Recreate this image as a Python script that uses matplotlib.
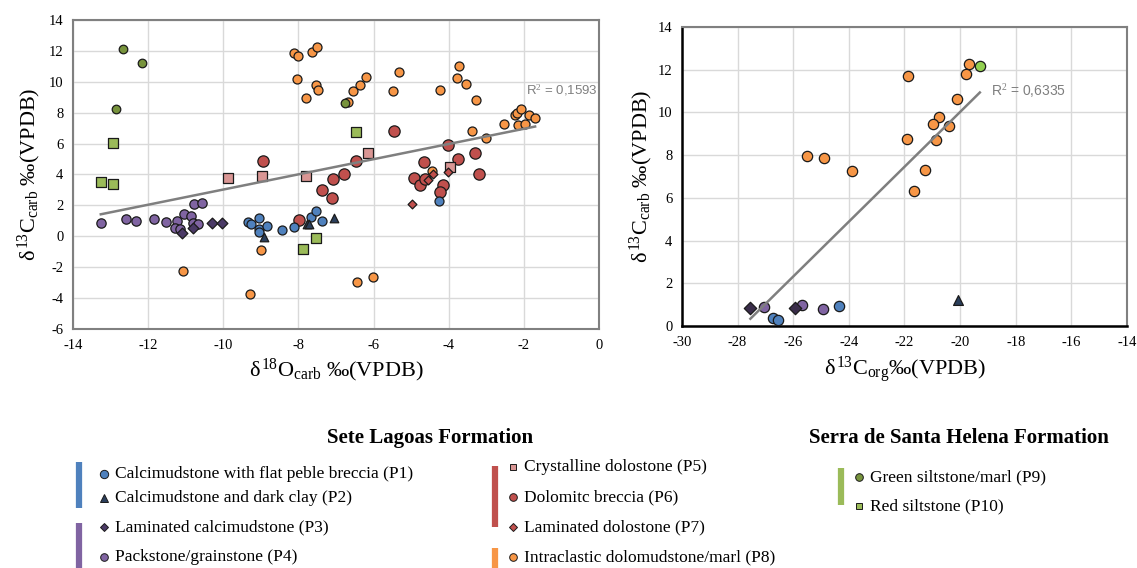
import numpy as np
import matplotlib
matplotlib.use('Agg')
import matplotlib.pyplot as plt
from matplotlib.lines import Line2D

plt.rcParams['font.family'] = ['Liberation Serif', 'DejaVu Serif']
plt.rcParams['mathtext.fontset'] = 'custom'
plt.rcParams['mathtext.rm'] = 'Liberation Serif'
plt.rcParams['mathtext.it'] = 'Liberation Serif'
plt.rcParams['axes.unicode_minus'] = False

# --- Sete Lagoas / Serra de Santa Helena: d18O (x) vs d13C (y) ---
p1_o = [-9.35, -9.27, -9.05, -9.04, -9.04, -8.84, -8.43, -8.11, -7.66, -7.54, -7.38, -4.25]
p1_c = [0.91, 0.80, 1.18, 0.47, 0.26, 0.67, 0.41, 0.58, 1.27, 1.64, 0.97, 2.28]
p2_o = [-8.92, -7.77, -7.72, -7.05]
p2_c = [-0.03, 0.80, 0.80, 1.18]
p3_o = [-11.11, -10.80, -10.31, -10.03]
p3_c = [0.19, 0.56, 0.86, 0.86]
p4_o = [-13.25, -12.60, -12.31, -11.84, -11.53, -11.24, -11.28, -11.15, -11.05, -10.85,
        -10.80, -10.68, -10.79, -10.57]
p4_c = [0.84, 1.12, 1.01, 1.12, 0.91, 0.99, 0.52, 0.47, 1.42, 1.33, 0.88, 0.80, 2.07, 2.17]
p5_o = [-9.88, -8.96, -7.80, -6.14, -3.97]
p5_c = [3.77, 3.90, 3.90, 5.37, 4.50]
p6_o = [-8.95, -7.98, -7.36, -7.11, -7.07, -6.79, -6.46, -5.46, -4.03, -4.65, -3.76, -3.30,
        -3.19, -4.92, -4.76, -4.63, -4.14, -4.23]
p6_c = [4.87, 1.06, 3.02, 2.50, 3.69, 4.05, 4.87, 6.82, 5.91, 4.81, 5.02, 5.37, 4.03, 3.79,
        3.30, 3.69, 3.30, 2.89]
p7_o = [-4.98, -4.56, -4.41, -4.01]
p7_c = [2.11, 3.66, 4.01, 4.18]
p8_o = [-8.11, -8.00, -7.64, -7.50, -8.03, -7.53, -7.49, -7.80, -6.67, -6.56, -6.37, -6.19,
        -5.32, -5.49, -3.73, -3.79, -3.55, -4.23, -3.26, -3.39, -3.01, -2.54, -2.24, -2.19,
        -2.07, -1.86, -1.70, -2.16, -1.97, -4.45, -9.00, -11.07, -9.29, -6.45, -6.02]
p8_c = [11.84, 11.69, 11.95, 12.27, 10.19, 9.80, 9.48, 8.98, 8.70, 9.39, 9.78, 10.32,
        10.63, 9.38, 11.02, 10.22, 9.88, 9.47, 8.80, 6.82, 6.34, 7.29, 7.85, 8.00,
        8.24, 7.87, 7.68, 7.18, 7.25, 4.25, -0.91, -2.27, -3.74, -2.98, -2.65]
p9_o = [-12.67, -12.17, -12.85, -6.75]
p9_c = [12.12, 11.19, 8.25, 8.64]
p10_o = [-12.93, -13.26, -12.93, -6.46, -7.54, -7.89]
p10_c = [6.06, 3.51, 3.38, 6.76, -0.13, -0.82]

# --- d13Corg (x) vs d13Ccarb (y) ---
r1_org = [-26.74, -26.53, -24.35]
r1_c = [0.36, 0.28, 0.93]
r2_org = [-20.08]
r2_c = [1.20]
r3_org = [-27.54, -25.95]
r3_c = [0.82, 0.82]
r4_org = [-27.05, -25.69, -24.93]
r4_c = [0.90, 0.98, 0.81]
r8_org = [-19.68, -19.80, -21.86, -20.10, -20.76, -20.99, -20.41, -21.92, -20.86, -25.51,
          -24.91, -23.87, -21.26, -21.64]
r8_c = [12.26, 11.82, 11.70, 10.61, 9.80, 9.44, 9.36, 8.77, 8.70, 7.98, 7.86, 7.25, 7.28, 6.32]
r9_org = [-19.29]
r9_c = [12.16]

r2_left = 'R$^2$ = 0,1593'
r2_right = 'R$^2$ = 0,6335'

c_blue = '#4F81BD'
c_navy = '#2B3F5C'
c_dpurp = '#4B3A66'
c_purp = '#8064A2'
c_pink = '#D99694'
c_red = '#C0504D'
c_orange = '#F79646'
c_olive = '#77933C'
c_lgreen = '#9BBB59'

fig = plt.figure(figsize=(11.37, 5.68), dpi=100)
ax1 = fig.add_axes([0.0642, 0.4208, 0.4626, 0.5440])
ax2 = fig.add_axes([0.5998, 0.4261, 0.3914, 0.5264])

ek = dict(edgecolors='#1a1a1a', linewidths=0.9, zorder=3)

# left panel
ax1.scatter(p8_o, p8_c, s=42, marker='o', color=c_orange, **ek)
ax1.scatter(p6_o, p6_c, s=66, marker='o', color=c_red, **ek)
ax1.scatter(p5_o, p5_c, s=50, marker='s', color=c_pink, **ek)
ax1.scatter(p7_o, p7_c, s=20, marker='D', color=c_red, **ek)
ax1.scatter(p4_o, p4_c, s=45, marker='o', color=c_purp, **ek)
ax1.scatter(p3_o, p3_c, s=30, marker='D', color=c_dpurp, **ek)
ax1.scatter(p1_o, p1_c, s=42, marker='o', color=c_blue, **ek)
ax1.scatter(p2_o, p2_c, s=38, marker='^', color=c_navy, **ek)
ax1.scatter(p9_o, p9_c, s=38, marker='o', color=c_olive, **ek)
ax1.scatter(p10_o, p10_c, s=45, marker='s', color=c_lgreen, **ek)

all_o = np.array(p1_o + p2_o + p3_o + p4_o + p5_o + p6_o + p7_o + p8_o + p9_o + p10_o)
all_c = np.array(p1_c + p2_c + p3_c + p4_c + p5_c + p6_c + p7_c + p8_c + p9_c + p10_c)
k, b = np.polyfit(all_o, all_c, 1)
xs = np.array([all_o.min(), all_o.max()])
ax1.plot(xs, k * xs + b, color='#7F7F7F', lw=1.8, zorder=4)
ax1.text(-1.95, 9.45, r2_left, fontsize=9.5, color='#7F7F7F', family='Liberation Sans',
         ha='left', va='center')

ax1.set_xlim(-14, 0)
ax1.set_ylim(-6, 14)
ax1.set_xticks(np.arange(-14, 1, 2))
ax1.set_yticks(np.arange(-6, 15, 2))
ax1.set_xlabel(r'$\delta^{18}$O$_{\mathregular{carb}}$ ‰(VPDB)', fontsize=16, labelpad=4)
ax1.set_ylabel(r'$\delta^{13}$C$_{\mathregular{carb}}$ ‰(VPDB)', fontsize=16, labelpad=4)
for s in ax1.spines.values():
    s.set_color('#808080')
    s.set_linewidth(1.5)

# right panel
ax2.scatter(r8_org, r8_c, s=55, marker='o', color=c_orange, **ek)
ax2.scatter(r4_org, r4_c, s=55, marker='o', color=c_purp, **ek)
ax2.scatter(r3_org, r3_c, s=40, marker='D', color='#3A2D4A', **ek)
ax2.scatter(r1_org, r1_c, s=55, marker='o', color=c_blue, **ek)
ax2.scatter(r2_org, r2_c, s=50, marker='^', color=c_navy, **ek)
ax2.scatter(r9_org, r9_c, s=55, marker='o', color='#92D050', **ek)

all_org = np.array(r1_org + r2_org + r3_org + r4_org + r8_org + r9_org)
all_rc = np.array(r1_c + r2_c + r3_c + r4_c + r8_c + r9_c)
k2, b2 = np.polyfit(all_org, all_rc, 1)
xs2 = np.array([all_org.min(), all_org.max()])
ax2.plot(xs2, k2 * xs2 + b2, color='#7F7F7F', lw=1.8, zorder=4)
ax2.text(-18.9, 11.0, r2_right, fontsize=10, color='#7F7F7F', family='Liberation Sans',
         ha='left', va='center')

ax2.set_xlim(-30, -14)
ax2.set_ylim(0, 14)
ax2.set_xticks(np.arange(-30, -13, 2))
ax2.set_yticks(np.arange(0, 15, 2))
ax2.set_xlabel(r'$\delta^{13}$C$_{\mathregular{org}}$‰(VPDB)', fontsize=16, labelpad=4)
ax2.set_ylabel(r'$\delta^{13}$C$_{\mathregular{carb}}$ ‰(VPDB)', fontsize=16, labelpad=2)
for name, s in ax2.spines.items():
    if name in ('left', 'bottom'):
        s.set_color('#000000')
        s.set_linewidth(1.8)
    else:
        s.set_color('#808080')
        s.set_linewidth(1.5)

for ax in (ax1, ax2):
    ax.grid(True, color='#D9D9D9', lw=1.0)
    ax.set_axisbelow(True)
    ax.tick_params(length=0, labelsize=10.5, pad=7)

# legend block
fig.text(430 / 1137, 1 - 438 / 568, 'Sete Lagoas Formation', fontsize=15, fontweight='bold',
         ha='center', va='center')
fig.text(959 / 1137, 1 - 438 / 568, 'Serra de Santa Helena Formation', fontsize=15,
         fontweight='bold', ha='center', va='center')

bars = [(79, 462, 508, c_blue), (79, 523, 568, c_purp), (495, 466, 527, c_red),
        (495, 548, 568, c_orange), (841, 468, 505, '#9BBB59')]
for bx, y0, y1, col in bars:
    fig.add_artist(Line2D([bx / 1137, bx / 1137], [1 - y0 / 568, 1 - y1 / 568], color=col,
                          lw=4.5, solid_capstyle='butt'))

entries = [
    (104, 474, 'o', c_blue, 6, 'Calcimudstone with flat peble breccia (P1)'),
    (104, 498, '^', c_navy, 5.5, 'Calcimudstone and dark clay (P2)'),
    (104, 527, 'D', c_dpurp, 4.5, 'Laminated calcimudstone (P3)'),
    (104, 557, 'o', c_purp, 5.5, 'Packstone/grainstone (P4)'),
    (513, 467, 's', c_pink, 5, 'Crystalline dolostone (P5)'),
    (513, 497, 'o', c_red, 5.5, 'Dolomitc breccia (P6)'),
    (513, 527, 'D', c_red, 4, 'Laminated dolostone (P7)'),
    (513, 557, 'o', c_orange, 5.5, 'Intraclastic dolomudstone/marl (P8)'),
    (859, 477, 'o', c_olive, 5.5, 'Green siltstone/marl (P9)'),
    (859, 506, 's', c_lgreen, 5, 'Red siltstone (P10)'),
]
for mx, my, mk, col, ms, label in entries:
    fig.add_artist(Line2D([mx / 1137], [1 - my / 568], marker=mk, color=col, ms=ms,
                          markeredgecolor='#1a1a1a', markeredgewidth=0.7, linestyle='none'))
    fig.text((mx + 11) / 1137, 1 - my / 568, label, fontsize=12.5, ha='left', va='center')

fig.savefig('out.png', dpi=100)
